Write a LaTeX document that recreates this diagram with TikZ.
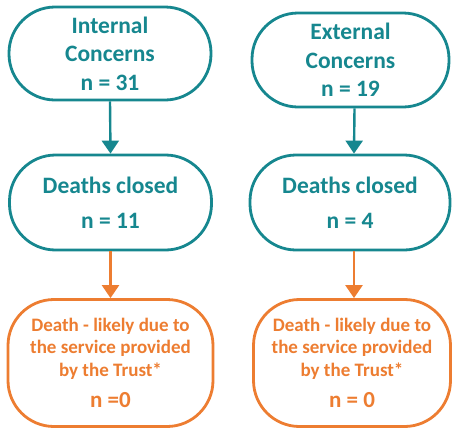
\documentclass[tikz,border=0pt]{standalone}
\usepackage{fontspec}
\setmainfont{Carlito}
\usetikzlibrary{arrows.meta}
\definecolor{teal}{HTML}{16878F}
\definecolor{orng}{HTML}{ED7D31}
\begin{document}
\begin{tikzpicture}[x=1pt,y=-1pt,
  box/.style={draw, line width=2.8pt, rounded corners=46pt, fill=white,
    align=center, font=\bfseries, inner sep=0pt},
  tealbox/.style={box, draw=teal, text=teal, font=\fontsize{23.5}{28.5}\selectfont\bfseries},
  orngbox/.style={box, draw=orng, text=orng, font=\fontsize{19}{22.5}\selectfont\bfseries, rounded corners=46pt},
  link/.style={line width=2.4pt, -{Triangle[length=13pt,width=17pt]}}]
\useasboundingbox (0,0) rectangle (458,429);
% left column
\node[tealbox, minimum width=202pt, minimum height=93pt] (l1) at (110,53.5)
  {Internal\\Concerns\\n = 31};
\node[tealbox, minimum width=202pt, minimum height=95pt] (l2) at (110.5,202.5)
  {Deaths closed\\[7pt]n = 11};
\node[orngbox, minimum width=205pt, minimum height=127pt] (l3) at (110.5,363)
  {Death - likely due to\\the service provided\\by the Trust*\\[9pt]{\fontsize{23}{28}\selectfont n =0}};
% right column
\node[tealbox, minimum width=197pt, minimum height=94pt] (r1) at (350.5,60)
  {External\\Concerns\\n = 19};
\node[tealbox, minimum width=200pt, minimum height=95pt] (r2) at (350,202.5)
  {Deaths closed\\[7pt]n = 4};
\node[orngbox, minimum width=197pt, minimum height=127pt] (r3) at (352,363)
  {Death - likely due to\\the service provided\\by the Trust*\\[9pt]{\fontsize{23}{28}\selectfont n = 0}};
% connectors
\draw[link, teal] (l1.south) -- (l2.north);
\draw[link, teal] ([xshift=4pt]r1.south) -- ([xshift=4pt]r2.north);
\draw[link, orng] (l2.south) -- (l3.north);
\draw[link, orng] ([xshift=4pt]r2.south) -- ([xshift=4pt]r2.south |- r3.north);
\end{tikzpicture}
\end{document}
